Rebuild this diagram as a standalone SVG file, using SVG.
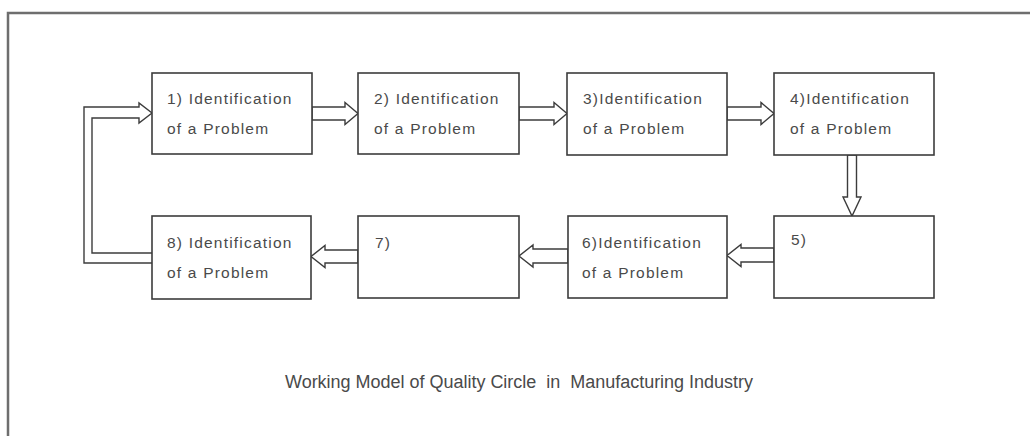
<svg xmlns="http://www.w3.org/2000/svg" width="1030" height="436" viewBox="0 0 1030 436">
<style>
.box{fill:#fff;stroke:#3c3c3c;stroke-width:1.6}
.arr{fill:#fff;stroke:#3c3c3c;stroke-width:1.4;stroke-linejoin:miter}
.t{font-family:"Liberation Sans",Arial,sans-serif;font-size:15.5px;letter-spacing:1.2px;fill:#4a4a4a}
.cap{font-family:"Liberation Sans",Arial,sans-serif;font-size:18px;fill:#4a4a4a;white-space:pre}
</style>
<rect width="1030" height="436" fill="#fff"/>
<path d="M8,436 V13 H1030" fill="none" stroke="#6e6e6e" stroke-width="2.5"/>
<g id="connectors">
<polygon class="arr" points="312,107 345,107 345,102.5 358,113.5 345,124.5 345,120 312,120"/>
<polygon class="arr" points="519,107 554,107 554,102.5 567,113.5 554,124.5 554,120 519,120"/>
<polygon class="arr" points="727,107 761,107 761,102.5 774,113.5 761,124.5 761,120 727,120"/>
<polygon class="arr" points="847.5,155 856.5,155 856.5,197 861,197 852,216 843,197 847.5,197"/>
<polygon class="arr" points="774,248 741,248 741,244.5 727,255.5 741,266.5 741,262 774,262"/>
<polygon class="arr" points="568,249 533,249 533,245 519,256 533,267 533,263 568,263"/>
<polygon class="arr" points="358,250 325,250 325,245.5 311,256.5 325,267.5 325,263 358,263"/>
<path class="arr" d="M152,263 H84 V107 H139 V103 L152,113 L139,123 V118 H92 V253 H152"/>
</g>
<g id="n1"><rect class="box" x="152" y="73" width="160" height="81"/><text class="t" x="167" y="104">1) Identification</text><text class="t" x="167" y="134">of a Problem</text></g>
<g id="n2"><rect class="box" x="358" y="73" width="161" height="81"/><text class="t" x="374" y="104">2) Identification</text><text class="t" x="374" y="134">of a Problem</text></g>
<g id="n3"><rect class="box" x="567" y="73" width="160" height="82"/><text class="t" x="583" y="104">3)Identification</text><text class="t" x="583" y="134">of a Problem</text></g>
<g id="n4"><rect class="box" x="774" y="73" width="160" height="82"/><text class="t" x="790" y="104">4)Identification</text><text class="t" x="790" y="134">of a Problem</text></g>
<g id="n5"><rect class="box" x="774" y="216" width="160" height="82"/><text class="t" x="791" y="245">5)</text></g>
<g id="n6"><rect class="box" x="568" y="216" width="159" height="82"/><text class="t" x="582" y="248">6)Identification</text><text class="t" x="582" y="278">of a Problem</text></g>
<g id="n7"><rect class="box" x="358" y="216" width="161" height="82"/><text class="t" x="375" y="248">7)</text></g>
<g id="n8"><rect class="box" x="152" y="216" width="159" height="83"/><text class="t" x="167" y="248">8) Identification</text><text class="t" x="167" y="278">of a Problem</text></g>
<text class="cap" x="285" y="388" textLength="468" lengthAdjust="spacing" xml:space="preserve">Working Model of Quality Circle  in  Manufacturing Industry</text>
</svg>
